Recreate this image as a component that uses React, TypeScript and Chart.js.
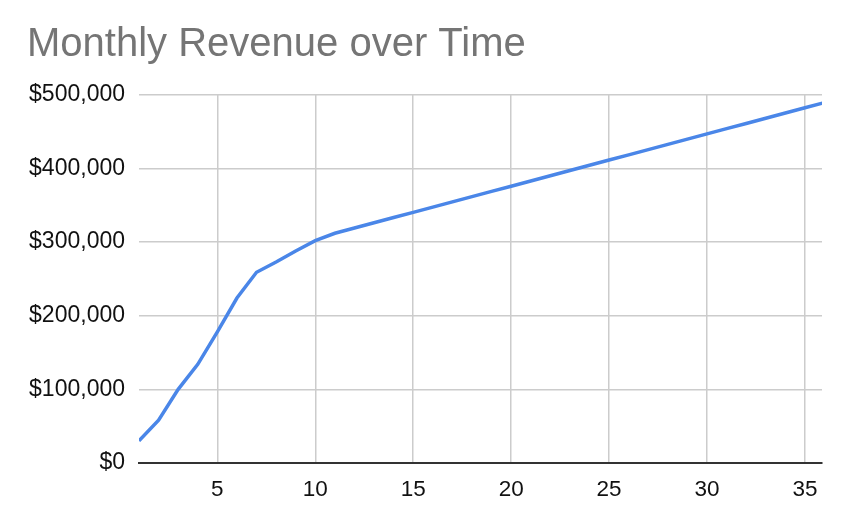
import React, { useEffect, useRef } from "react";
import { Chart, registerables } from "chart.js";

Chart.register(...registerables);

const months: number[] = [
  1, 2, 3, 4, 5, 6, 7, 8, 9, 10, 11, 12, 13, 14, 15, 16, 17, 18,
  19, 20, 21, 22, 23, 24, 25, 26, 27, 28, 29, 30, 31, 32, 33, 34, 35, 36,
];
const revenue: number[] = [
  30000, 58000, 100000, 134000, 178000, 224000, 259000, 273000, 288000, 302000,
  312000, 319100, 326200, 333300, 340400, 347500, 354600, 361700, 368800, 375900,
  383000, 390100, 397200, 404300, 411400, 418500, 425600, 432700, 439800, 446900,
  454000, 461100, 468200, 475300, 482400, 489500,
];
const xTicks: number[] = [5, 10, 15, 20, 25, 30, 35];
const yTicks: number[] = [0, 100000, 200000, 300000, 400000, 500000];
const title = "Monthly Revenue over Time";

const FONT = "'Liberation Sans', Arial, Helvetica, sans-serif";

export default function App() {
  const ref = useRef<HTMLCanvasElement>(null);

  useEffect(() => {
    document.body.style.margin = "0";
    const canvas = ref.current;
    if (!canvas) return;
    const chart = new Chart(canvas, {
      type: "line",
      data: {
        datasets: [
          {
            label: "Revenue",
            data: months.map((m, i) => ({ x: m, y: revenue[i] })),
            borderColor: "#4a86e8",
            backgroundColor: "#4a86e8",
            borderWidth: 3.5,
            pointRadius: 0,
            tension: 0,
            clip: 0,
          },
        ],
      },
      options: {
        animation: false,
        responsive: false,
        layout: { padding: { left: 27, right: 28, top: 21, bottom: 0 } },
        plugins: {
          legend: { display: false },
          tooltip: { enabled: false },
          title: {
            display: true,
            text: title,
            align: "start",
            color: "#757575",
            font: { family: FONT, size: 40, weight: "normal", lineHeight: 1.2 },
            padding: { top: 0, bottom: 25.8 },
          },
        },
        scales: {
          x: {
            type: "linear",
            min: 1,
            max: 35.87,
            afterBuildTicks: (scale: any) => {
              scale.ticks = xTicks.map((v) => ({ value: v }));
            },
            afterFit: (scale: any) => {
              scale.height = 63;
            },
            grid: {
              color: "#cccccc",
              lineWidth: 1.5,
              drawTicks: false,
            },
            border: { display: true, color: "#333333", width: 2 },
            ticks: {
              color: "#111111",
              font: { family: FONT, size: 22.5 },
              padding: 13,
              maxRotation: 0,
              autoSkip: false,
            },
          },
          y: {
            type: "linear",
            min: 0,
            max: 500000,
            afterBuildTicks: (scale: any) => {
              scale.ticks = yTicks.map((v) => ({ value: v }));
            },
            afterFit: (scale: any) => {
              scale.width = 112;
            },
            grid: {
              color: (ctx: any) => (ctx.tick && ctx.tick.value === 0 ? "#333333" : "#cccccc"),
              lineWidth: (ctx: any) => (ctx.tick && ctx.tick.value === 0 ? 2 : 1.5),
              drawTicks: false,
            },
            border: { display: false },
            ticks: {
              color: "#111111",
              font: { family: FONT, size: 23 },
              padding: 14,
              callback: (v: any) => "$" + Number(v).toLocaleString("en-US"),
            },
          },
        },
      },
    } as any);
    return () => chart.destroy();
  }, []);

  return <canvas ref={ref} width={850} height={526} style={{ display: "block" }} />;
}
